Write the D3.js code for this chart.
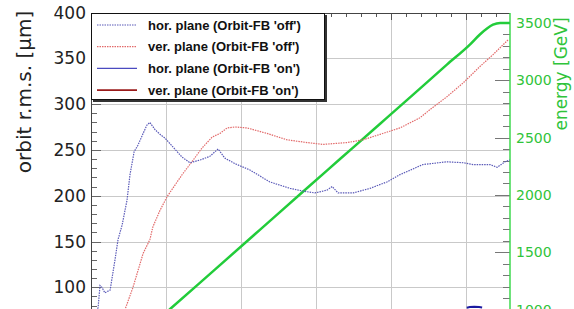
<!DOCTYPE html>
<head>
<meta charset="utf-8">
<style>
    body { margin: 0; background: #fff; }
    text { font-family: "DejaVu Sans", sans-serif; }
    .legend text { font-family: "Liberation Sans", Arial, sans-serif; font-weight: bold; font-size: 13px; }
</style>
</head>
<body>
    <script src="https://d3js.org/d3.v7.min.js"></script>
    <script>

    ///////////////////////////
    ////////// DATA ///////////
    ///////////////////////////

    // time [s], orbit r.m.s. [um]
    const horOffT = [5, 19, 24, 29, 37, 51, 64, 72, 83, 96, 104, 115, 125, 139, 149, 157, 171, 184, 197, 219, 243, 264, 291, 317, 339, 357, 384, 424, 477, 531, 565, 597, 629, 643, 659, 699, 744, 789, 824, 885, 949, 992, 1019, 1064, 1083, 1104, 1117];
    const horOffV = [64, 78, 102, 100, 94, 97, 130, 152, 168, 195, 223, 248, 255, 268, 277, 280, 272, 267, 263, 253, 242, 236, 239, 243, 251, 241, 235, 228, 215, 208, 205, 203, 206, 210, 203, 203, 208, 215, 223, 234, 237, 236, 234, 234, 231, 237, 239];

    const verOffT = [83, 91, 112, 139, 157, 165, 184, 203, 243, 269, 296, 323, 344, 363, 384, 416, 469, 523, 576, 619, 683, 725, 771, 824, 877, 904, 949, 992, 1037, 1072, 1112];
    const verOffV = [53, 76, 100, 137, 152, 166, 184, 199, 223, 237, 252, 264, 268, 274, 275, 274, 268, 261, 258, 256, 258, 261, 267, 274, 285, 294, 308, 323, 341, 354, 370];

    const horOnT = [1002, 1010, 1022, 1035, 1043];
    const horOnV = [77.6, 78.4, 78.7, 78.5, 78.0];

    // time [s], beam energy [GeV]
    const energyT = [104, 211, 331, 451, 565, 664, 771, 859, 949, 1011, 1037, 1056, 1072, 1091, 1117];
    const energyV = [690, 1004, 1350, 1697, 2028, 2313, 2621, 2875, 3137, 3314, 3400, 3452, 3485, 3500, 3500];

    const leftTicks = [100, 150, 200, 250, 300, 350, 400];
    const rightTicks = [1000, 1500, 2000, 2500, 3000, 3500];
    const timeGrid = [200, 400, 600, 800, 1000];

    const legendLabels = ["hor. plane (Orbit-FB 'off')", "ver. plane (Orbit-FB 'off')", "hor. plane (Orbit-FB 'on')", "ver. plane (Orbit-FB 'on')"];

    ///////////////////////////
    ////////// SETUP //////////
    ///////////////////////////

    const W = 574, H = 309;
    const pL = 91, pR = 510, pT = 13, pB = 340;

    let svg = d3.select('body').append('svg')
        .attr('width', W)
        .attr('height', H);

    const x = d3.scaleLinear().domain([0, 1117.3]).range([pL, pR]);
    const y = d3.scaleLinear().domain([100, 400]).range([287.3, 12.5]);
    const yE = d3.scaleLinear().domain([1000, 3500]).range([309.5, 23]);

    svg.append('clipPath').attr('id', 'plot')
        .append('rect').attr('x', pL).attr('y', pT).attr('width', pR - pL).attr('height', pB - pT);

    //////////////////////////
    ////////// GRID //////////
    //////////////////////////

    const grid = svg.append('g').attr('stroke', '#c9c9c9').attr('stroke-width', 1);
    grid.selectAll('.vg').data(timeGrid).enter().append('line')
        .attr('x1', d => Math.round(x(d)) + 0.5).attr('x2', d => Math.round(x(d)) + 0.5)
        .attr('y1', pT).attr('y2', H);
    grid.selectAll('.hg').data(leftTicks.filter(d => d < 400)).enter().append('line')
        .attr('x1', pL).attr('x2', pR)
        .attr('y1', d => Math.round(y(d)) + 0.5).attr('y2', d => Math.round(y(d)) + 0.5);

    // left axis ticks (inside)
    const axL = svg.append('g').attr('stroke', '#666');
    axL.selectAll('line').data(d3.range(70, 401, 10)).enter().append('line')
        .attr('x1', pL).attr('x2', d => pL + (d % 50 === 0 ? 10 : 6))
        .attr('y1', d => Math.round(y(d)) + 0.5).attr('y2', d => Math.round(y(d)) + 0.5);
    svg.append('line').attr('x1', pL + 0.5).attr('x2', pL + 0.5).attr('y1', pT).attr('y2', H)
        .attr('stroke', '#444');
    svg.selectAll('.ltl').data(leftTicks).enter().append('text')
        .attr('x', 86).attr('y', d => y(d) + 6)
        .attr('text-anchor', 'end').attr('font-size', 17).attr('fill', '#222')
        .text(d => d);

    // top frame with minor ticks
    const axT = svg.append('g').attr('stroke', '#555');
    axT.selectAll('line').data(d3.range(40, 1117, 40)).enter().append('line')
        .attr('x1', d => Math.round(x(d)) + 0.5).attr('x2', d => Math.round(x(d)) + 0.5)
        .attr('y1', pT).attr('y2', d => pT + (d % 200 === 0 ? 7 : 4));
    svg.append('line').attr('x1', pL).attr('x2', pR).attr('y1', pT + 0.5).attr('y2', pT + 0.5)
        .attr('stroke', '#444');

    // right energy axis
    const axR = svg.append('g').attr('stroke', '#777');
    axR.selectAll('line').data(d3.range(900, 3501, 100)).enter().append('line')
        .attr('x1', d => pR - (d % 500 === 0 ? 15 : 7)).attr('x2', pR)
        .attr('y1', d => Math.round(yE(d)) + 0.5).attr('y2', d => Math.round(yE(d)) + 0.5);
    svg.append('line').attr('x1', pR).attr('x2', pR).attr('y1', pT).attr('y2', H)
        .attr('stroke', '#3fd94f').attr('stroke-width', 1.5);
    svg.selectAll('.rtl').data(rightTicks).enter().append('text')
        .attr('x', 516).attr('y', d => yE(d) + 5)
        .attr('font-size', 14).attr('fill', '#2fc43a')
        .text(d => d);

    // axis titles
    svg.append('text')
        .attr('transform', 'translate(31,92) rotate(-90)')
        .attr('text-anchor', 'middle').attr('font-size', 20).attr('fill', '#222')
        .text('orbit r.m.s. [µm]');
    svg.append('text')
        .attr('transform', 'translate(567,74) rotate(-90)')
        .attr('text-anchor', 'middle').attr('font-size', 17).attr('fill', '#2fc43a')
        .text('energy [GeV]');

    //////////////////////////
    ////////// DRAW //////////
    //////////////////////////

    const plot = svg.append('g').attr('clip-path', 'url(#plot)');
    const zip = (ts, vs) => ts.map((t, i) => ({t: t, v: vs[i]}));

    const line = d3.line().x(d => x(d.t)).y(d => y(d.v));
    const lineE = d3.line().curve(d3.curveMonotoneX).x(d => x(d.t)).y(d => yE(d.v));

    plot.append('path').attr('d', lineE(zip(energyT, energyV)))
        .attr('fill', 'none').attr('stroke', '#22cc3a').attr('stroke-width', 2.5);

    plot.append('path').attr('d', line(zip(verOffT, verOffV)))
        .attr('fill', 'none').attr('stroke', '#e26a6a').attr('stroke-width', 1.2)
        .attr('stroke-dasharray', '1.5,1');

    plot.append('path').attr('d', line(zip(horOffT, horOffV)))
        .attr('fill', 'none').attr('stroke', '#5a5ab8').attr('stroke-width', 1.2)
        .attr('stroke-dasharray', '1.5,1');

    plot.append('path').attr('d', line(zip(horOnT, horOnV)))
        .attr('fill', 'none').attr('stroke', '#1a1aa0').attr('stroke-width', 2);

    ////////////////////////////
    ////////// LEGEND //////////
    ////////////////////////////

    const legend = svg.append('g').attr('class', 'legend');
    legend.append('rect').attr('x', pL + 2).attr('y', pT + 2).attr('width', 325 - pL).attr('height', 100 - pT)
        .attr('fill', '#333');
    legend.append('rect').attr('x', pL + 0.5).attr('y', pT + 0.5).attr('width', 324 - pL).attr('height', 99 - pT)
        .attr('fill', '#fff').attr('stroke', '#111');

    const legStyles = [
        {c: '#5a5ab8', w: 1.2, dash: '1.5,1'},
        {c: '#e26a6a', w: 1.2, dash: '1.5,1'},
        {c: '#4a4ac0', w: 1.3, dash: null},
        {c: '#9a1a1a', w: 1.6, dash: null}
    ];
    const row = legend.selectAll('.row').data(legendLabels).enter().append('g')
        .attr('transform', (d, i) => 'translate(0,' + (25 + i * 21.7) + ')');
    row.append('line').attr('x1', 97).attr('x2', 137).attr('y1', 0).attr('y2', 0)
        .attr('stroke', (d, i) => legStyles[i].c)
        .attr('stroke-width', (d, i) => legStyles[i].w)
        .attr('stroke-dasharray', (d, i) => legStyles[i].dash);
    row.append('text').attr('x', 148).attr('y', 4.5).attr('fill', '#111')
        .text(d => d);

    </script>
</body>
